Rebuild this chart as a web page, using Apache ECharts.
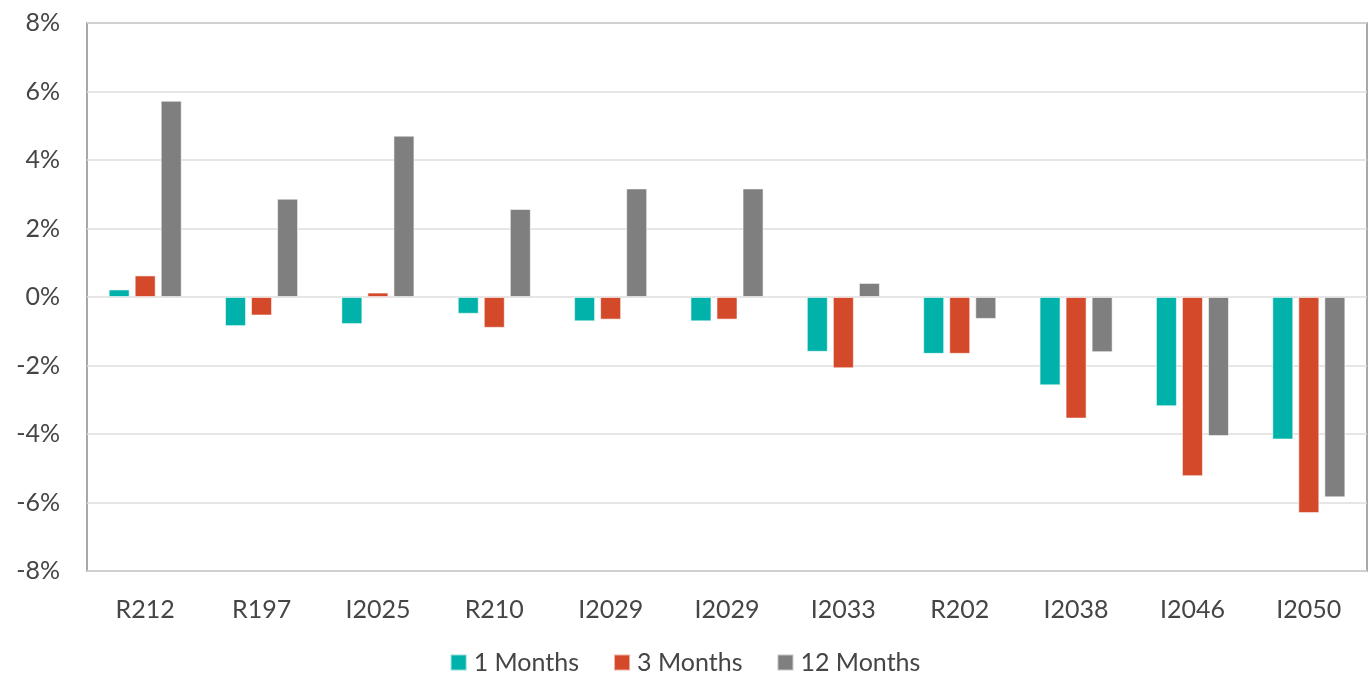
<!DOCTYPE html>
<html>
<head>
<meta charset="utf-8">
<script src="https://cdn.jsdelivr.net/npm/echarts@6/dist/echarts.min.js"></script>
<style>
  html, body { margin: 0; padding: 0; background: #ffffff; }
  #chart { width: 1370px; height: 675px; }
</style>
</head>
<body>
<div id="chart"></div>
<script>
// Bond return comparison by holding period (%)
const categories = ['R212', 'R197', 'I2025', 'R210', 'I2029', 'I2029', 'I2033', 'R202', 'I2038', 'I2046', 'I2050'];
const oneMonth    = [0.22, -0.85, -0.79, -0.49, -0.71, -0.71, -1.60, -1.66, -2.58, -3.19, -4.16];
const threeMonth  = [0.63, -0.54, 0.13, -0.90, -0.66, -0.66, -2.08, -1.66, -3.55, -5.23, -6.31];
const twelveMonth = [5.73, 2.87, 4.71, 2.57, 3.17, 3.17, 0.41, -0.64, -1.61, -4.06, -5.85];
const seriesNames = ['1 Months', '3 Months', '12 Months'];
const seriesColors = ['#00B2A9', '#D4492A', '#7F7F7F'];

const fontFamily = 'Lato, "Open Sans", sans-serif';
const textColor = '#454545';

const chart = echarts.init(document.getElementById('chart'), null, { renderer: 'canvas' });

const makeSeries = (name, data, color) => ({
  name: name,
  type: 'bar',
  data: data,
  barWidth: 21,
  barGap: '24%',
  itemStyle: { color: color, borderColor: 'rgba(255,255,255,0.55)', borderWidth: 1 },
  emphasis: { disabled: true }
});

chart.setOption({
  animation: false,
  backgroundColor: '#ffffff',
  textStyle: { fontFamily: fontFamily },
  grid: {
    left: 87, right: 3, top: 23, bottom: 104,
    show: true, borderColor: '#8c8c8c', borderWidth: 1.5
  },
  legend: {
    top: 645,
    left: 'center',
    itemWidth: 16,
    itemHeight: 16,
    itemGap: 34,
    icon: 'rect',
    textStyle: { fontSize: 25, color: textColor, fontFamily: fontFamily, padding: [0, 0, 0, 2] },
    data: seriesNames
  },
  xAxis: {
    type: 'category',
    data: categories,
    axisLine: { show: false },
    axisTick: { show: false },
    axisLabel: { fontSize: 25, color: textColor, margin: 26, fontFamily: fontFamily },
    splitLine: { show: false }
  },
  yAxis: {
    type: 'value',
    min: -8,
    max: 8,
    interval: 2,
    axisLine: { show: false },
    axisTick: { show: false },
    axisLabel: { fontSize: 25, color: textColor, margin: 27, formatter: '{value}%', fontFamily: fontFamily },
    splitLine: { lineStyle: { color: '#dedede', width: 1.5 } }
  },
  series: [
    makeSeries(seriesNames[0], oneMonth, seriesColors[0]),
    makeSeries(seriesNames[1], threeMonth, seriesColors[1]),
    makeSeries(seriesNames[2], twelveMonth, seriesColors[2])
  ]
});
</script>
</body>
</html>
